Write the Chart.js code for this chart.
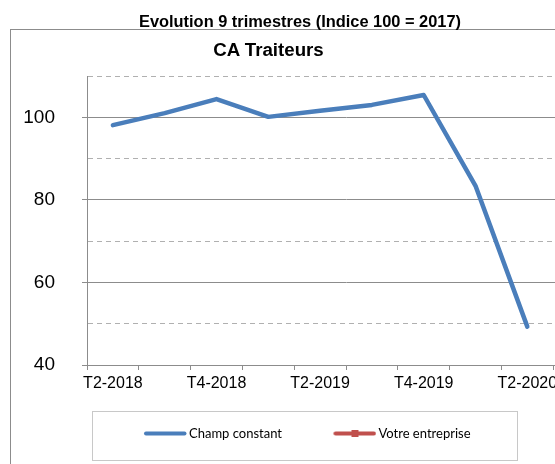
<!DOCTYPE html>
<html>
<head>
<meta charset="utf-8">
<script src="https://cdn.jsdelivr.net/npm/chart.js@4"></script>
<style>
  body { margin: 0; width: 555px; height: 464px; overflow: hidden; position: relative; background: #fff; }
  #frame { position: absolute; left: 10px; top: 29px; width: 700px; height: 600px; border: 1px solid #8c8c8c; box-sizing: border-box; }
  #chart { position: absolute; left: -40px; top: 0; }
  .ttl { position: absolute; left: 0; text-align: center; font-family: "Liberation Sans", Arial, sans-serif; font-weight: bold; line-height: 1; color: #000; white-space: nowrap; }
  #main { top: 13px; width: 600px; font-size: 16.4px; }
  #sub { top: 41px; width: 537px; font-size: 18.7px; }
</style>
</head>
<body>
<div id="frame"></div>
<canvas id="chart" width="660" height="464"></canvas>
<div class="ttl" id="main">Evolution 9 trimestres (Indice 100 = 2017)</div>
<div class="ttl" id="sub">CA Traiteurs</div>
<script>
// quarters (last one is empty, the plot runs past the cropped edge)
const quarters = ['T2-2018', 'T3-2018', 'T4-2018', 'T1-2019', 'T2-2019', 'T3-2019', 'T4-2019', 'T1-2020', 'T2-2020', 'T3-2020'];
const champConstant = [98.1, 101.0, 104.4, 100.1, 101.6, 103.0, 105.4, 83.4, 49.3, null];
const votreEntreprise = [null, null, null, null, null, null, null, null, null, null];
const seriesNames = ['Champ constant', 'Votre entreprise'];

const BLUE = '#4a7ebb';
const RED = '#c0504d';
const AXIS = '#8c8c8c';
const MINOR = '#b0b0b0';

// little line (+ square) icons for the legend
function legendIcon(color, withMarker) {
    const c = document.createElement('canvas');
    c.width = 91;
    c.height = 9;
    const g = c.getContext('2d');
    g.strokeStyle = color;
    g.lineWidth = 4;
    g.lineCap = 'round';
    g.beginPath();
    g.moveTo(50, 4.5);
    g.lineTo(88.5, 4.5);
    g.stroke();
    if (withMarker) {
        g.fillStyle = color;
        g.fillRect(66, 1, 7, 7);
    }
    return c;
}
const icons = [legendIcon(BLUE, false), legendIcon(RED, true)];

const isMajor = (c) => c.tick && c.tick.value % 20 === 0;

// frame around the legend, taken from the legend's own hit boxes
const legendFrame = {
    id: 'legendFrame',
    afterDraw(chart) {
        const hb = chart.legend.legendHitBoxes;
        if (!hb || hb.length < 2) return;
        const ctx = chart.ctx;
        const mid = hb[0].top + hb[0].height / 2;
        const left = hb[0].left - 8;
        const right = hb[1].left + hb[1].width + 47;
        ctx.save();
        ctx.strokeStyle = '#c8c8c8';
        ctx.lineWidth = 1;
        ctx.strokeRect(Math.round(left) + 0.5, Math.round(mid - 23) + 0.5, Math.round(right - left), 49);
        ctx.restore();
    }
};

new Chart(document.getElementById('chart'), {
    type: 'line',
    data: {
        labels: quarters,
        datasets: [
            {
                label: seriesNames[0],
                data: champConstant,
                borderColor: BLUE,
                backgroundColor: BLUE,
                borderWidth: 4.5,
                borderCapStyle: 'round',
                borderJoinStyle: 'round',
                pointRadius: 0,
                tension: 0,
            },
            {
                label: seriesNames[1],
                data: votreEntreprise,
                borderColor: RED,
                backgroundColor: RED,
                borderWidth: 4,
                pointStyle: 'rect',
                pointRadius: 3.5,
                tension: 0,
            },
        ],
    },
    options: {
        responsive: false,
        animation: false,
        devicePixelRatio: 1,
        layout: { padding: { left: 6, right: 15, top: 76, bottom: 14 } },
        scales: {
            x: {
                offset: true,
                afterFit: (s) => { s.height = 54; },
                grid: { display: true, drawOnChartArea: false, offset: true, color: AXIS, tickLength: 5 },
                border: { color: AXIS, width: 1 },
                ticks: {
                    autoSkip: false,
                    maxRotation: 0,
                    padding: 4,
                    color: '#000',
                    font: { family: 'Liberation Sans, Arial, sans-serif', size: 16 },
                    callback: (v, i) => (i % 2 === 0 ? quarters[i] : ''),
                },
            },
            y: {
                min: 40,
                max: 110,
                afterFit: (s) => { s.width = 121; },
                grid: {
                    color: (c) => (isMajor(c) ? AXIS : MINOR),
                    tickColor: (c) => (isMajor(c) ? AXIS : 'rgba(0,0,0,0)'),
                    tickLength: 5,
                },
                border: {
                    color: AXIS,
                    width: 1,
                    dash: (c) => (c.tick && c.tick.value % 20 !== 0 ? [5, 4] : []),
                },
                ticks: {
                    stepSize: 10,
                    padding: 27,
                    color: '#000',
                    font: { family: 'Liberation Sans, Arial, sans-serif', size: 19 },
                    callback: (v) => (v % 20 === 0 ? v : ''),
                },
            },
        },
        plugins: {
            title: { display: false },
            tooltip: { enabled: false },
            legend: {
                position: 'bottom',
                align: 'center',
                labels: {
                    usePointStyle: true,
                    pointStyleWidth: 82,
                    padding: 8,
                    color: '#000',
                    font: { family: 'Lato, sans-serif', size: 13 },
                    generateLabels: (chart) => {
                        const items = Chart.defaults.plugins.legend.labels.generateLabels(chart);
                        items.forEach((it, i) => { it.pointStyle = icons[i]; });
                        return items;
                    },
                },
            },
        },
    },
    plugins: [legendFrame],
});
</script>
</body>
</html>
